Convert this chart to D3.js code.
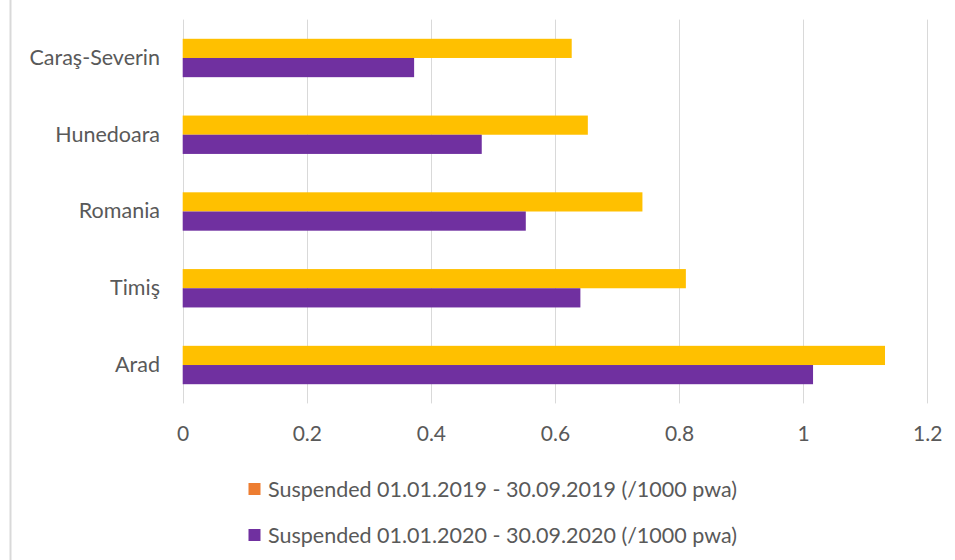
<!DOCTYPE html>
<html>
<head>
<meta charset="utf-8">
<script src="https://cdn.jsdelivr.net/npm/d3@7"></script>
<style>
  html, body { margin: 0; padding: 0; background: #fff; }
  svg { display: block; }
  text { font-family: Lato, "Open Sans", sans-serif; fill: #595959; }
</style>
</head>
<body>
<svg id="chart" width="955" height="560"></svg>
<script>
const categories = ["Caraş-Severin", "Hunedoara", "Romania", "Timiş", "Arad"];
const seriesNames = [
  "Suspended 01.01.2019 - 30.09.2019 (/1000 pwa)",
  "Suspended 01.01.2020 - 30.09.2020 (/1000 pwa)"
];
const values2019 = [0.627, 0.653, 0.741, 0.811, 1.132];
const values2020 = [0.373, 0.482, 0.553, 0.641, 1.016];
const tickValues = [0, 0.2, 0.4, 0.6, 0.8, 1, 1.2];
const barColors = ["#FFC000", "#7030A0"];
const legendColors = ["#ED7D31", "#7030A0"];

const svg = d3.select("#chart");
const W = 955, H = 560;
const plot = { left: 182.7, right: 927.2, top: 19.6, bottom: 403.4 };

// frame line at left
svg.append("line")
  .attr("x1", 10.5).attr("x2", 10.5).attr("y1", 0).attr("y2", H)
  .attr("stroke", "#D9D9D9").attr("stroke-width", 2);

const x = d3.scaleLinear().domain([0, 1.2]).range([plot.left, plot.right]);
const y = d3.scaleBand().domain(categories).range([plot.top, plot.bottom])
  .paddingInner(0.5).paddingOuter(0.25);
const ySub = d3.scaleBand().domain([0, 1]).range([0, y.bandwidth()]);

// gridlines
svg.append("g").selectAll("line").data(tickValues).join("line")
  .attr("x1", d => Math.round(x(d)) + 0.5).attr("x2", d => Math.round(x(d)) + 0.5)
  .attr("y1", plot.top).attr("y2", plot.bottom)
  .attr("stroke", "#D9D9D9").attr("stroke-width", 1);

// bars
const series = [values2019, values2020];
series.forEach((vals, si) => {
  svg.append("g").selectAll("rect").data(categories).join("rect")
    .attr("x", x(0))
    .attr("y", (c) => y(c) + ySub(si))
    .attr("width", (c, i) => x(vals[i]) - x(0))
    .attr("height", ySub.bandwidth())
    .attr("fill", barColors[si]);
});

// x axis labels
const xAxis = d3.axisBottom(x).tickValues(tickValues).tickSize(0).tickPadding(0)
  .tickFormat(d => d3.format("")(d));
const gx = svg.append("g").attr("transform", `translate(0, ${plot.bottom + 22})`).call(xAxis);
gx.select(".domain").remove();
gx.selectAll("text").attr("dy", "0.35em").attr("y", 8)
  .style("font-size", "21px").style("font-family", "Lato, sans-serif").attr("fill", "#595959");

// y axis labels
const yAxis = d3.axisLeft(y).tickSize(0).tickPadding(0);
const gy = svg.append("g").attr("transform", `translate(160, 0)`).call(yAxis);
gy.select(".domain").remove();
gy.selectAll("text").style("font-size", "21.5px").style("font-family", "Lato, sans-serif").attr("fill", "#595959");

// legend
const legend = svg.append("g");
const legendY = [489, 535];
seriesNames.forEach((name, i) => {
  legend.append("rect")
    .attr("x", 248.5).attr("y", legendY[i] - 6).attr("width", 12).attr("height", 12)
    .attr("fill", legendColors[i]);
  legend.append("text")
    .attr("x", 268).attr("y", legendY[i]).attr("dy", "0.35em")
    .style("font-size", "21.5px")
    .text(name);
});
</script>
</body>
</html>
